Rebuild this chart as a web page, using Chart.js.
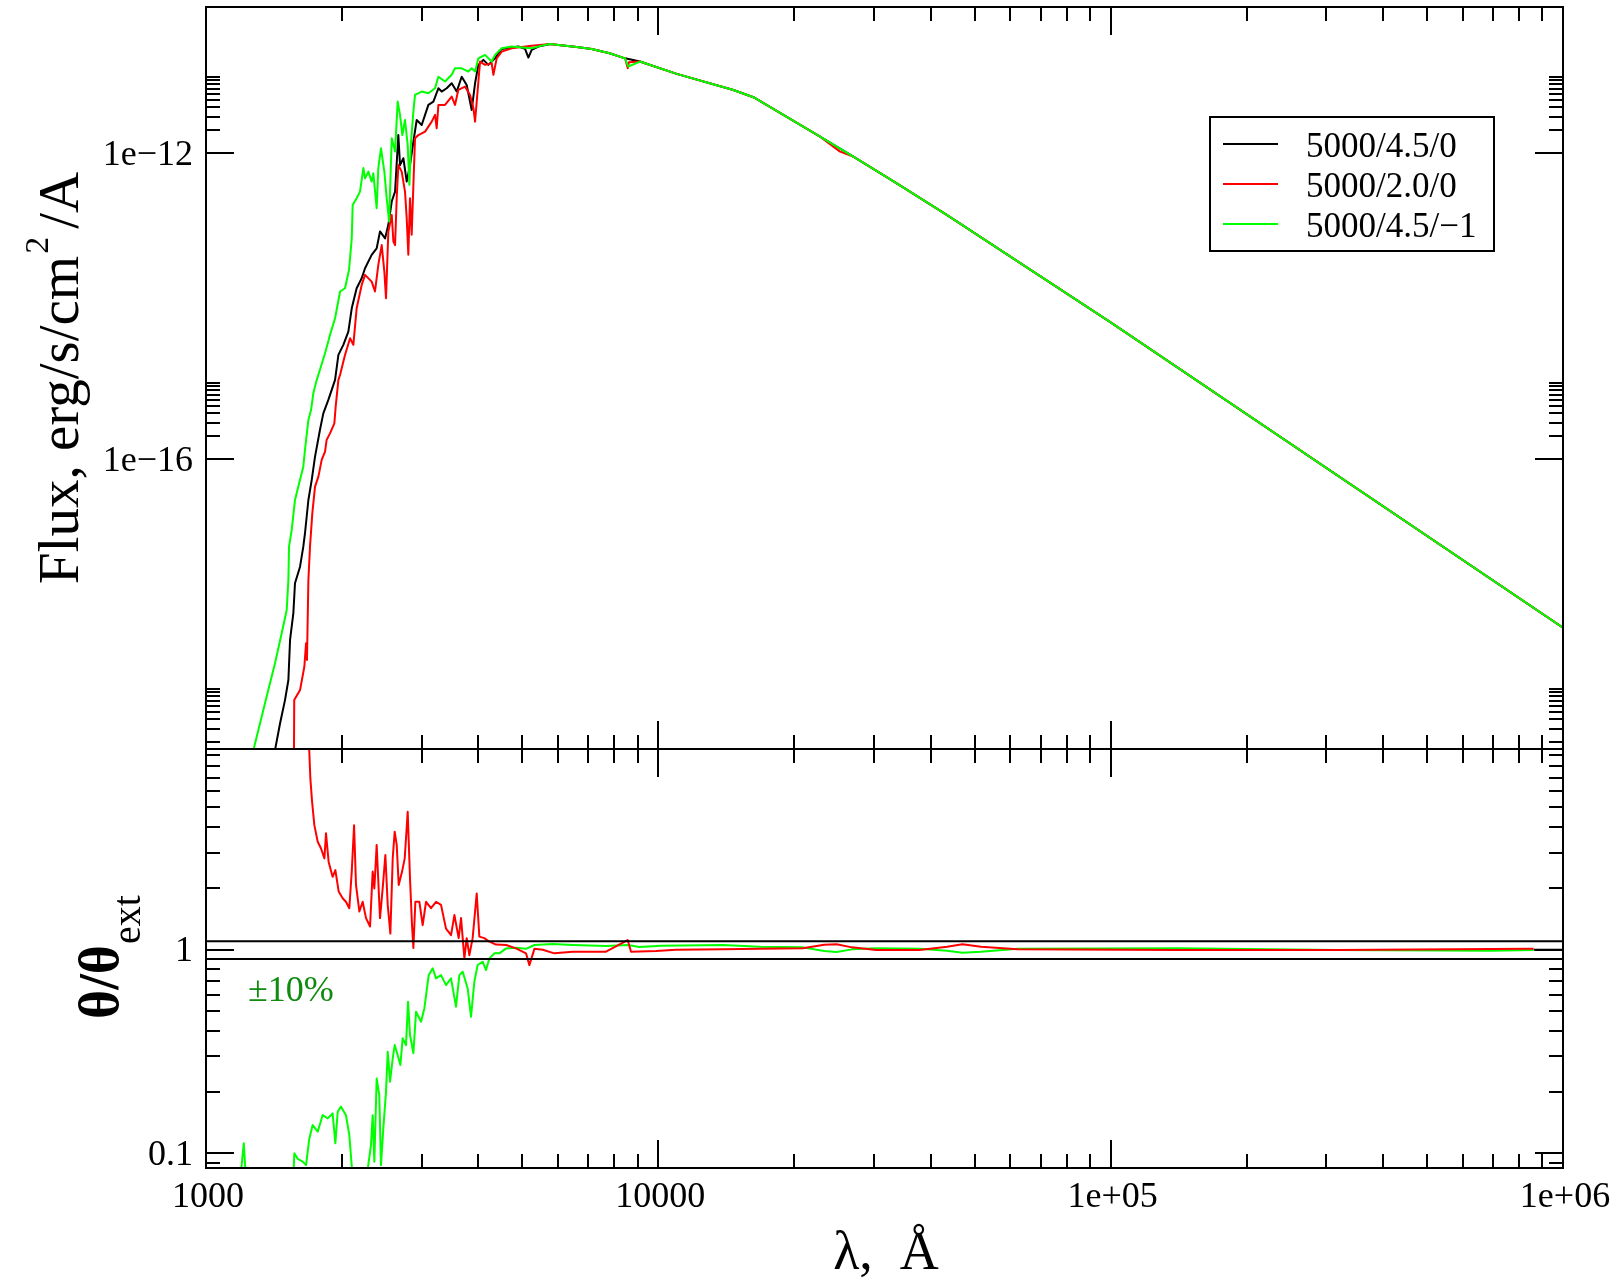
<!DOCTYPE html>
<html>
<head>
<meta charset="utf-8">
<title>Model spectra and angular-diameter ratio</title>
<script src="https://cdn.jsdelivr.net/npm/chart.js@4.4.1/dist/chart.umd.min.js"></script>
<style>
  html, body { margin: 0; padding: 0; background: #ffffff; }
  #figure { position: relative; width: 1621px; height: 1279px; }
  #figure canvas { position: absolute; left: 0; top: 0; }
</style>
</head>
<body>
<div id="figure">
  <canvas id="fluxChart" width="1621" height="1279"></canvas>
  <canvas id="ratioChart" width="1621" height="1279"></canvas>
</div>
<script>
// ---------------------------------------------------------------------------
// Data: wavelength in Angstrom, flux in erg/s/cm^2/A, ratio dimensionless
// ---------------------------------------------------------------------------
const seriesLabels = ['5000/4.5/0', '5000/2.0/0', '5000/4.5/\u22121'];

// UV / blue part of each model spectrum [lambda, flux]
const fluxBlackUV = [
  [1421,1.58e-20],[1458,3.54e-20],[1495,7.1e-20],[1521,1.30e-19],[1534,4.34e-19],[1560,9.7e-19],
  [1573,2.39e-18],[1614,3.94e-18],[1641,7.2e-18],[1655,1.07e-17],[1684,2.93e-17],[1713,5.36e-17],
  [1742,1.08e-16],[1786,2.41e-16],[1817,3.98e-16],[1864,5.96e-16],[1929,1.09e-15],[1962,2.31e-15],
  [2012,3.13e-15],[2064,4.67e-15],[2100,9.4e-15],[2153,1.72e-14],[2209,2.32e-14],[2247,3.14e-14],
  [2324,4.7e-14],[2384,5.7e-14],[2425,9.5e-14],[2488,7.7e-14],[2530,1.16e-13],[2574,2.34e-13],
  [2618,3.15e-13],[2662,1.73e-12],[2685,7.0e-13],[2731,8.6e-13],[2778,4.26e-13],[2825,7.0e-13],
  [2874,1.42e-12],[2923,2.72e-12],[2998,2.34e-12],[3102,4.28e-12],[3182,4.73e-12],[3264,7.07e-12],
  [3319,6.40e-12],[3405,7.07e-12],[3493,8.22e-12],[3583,6.40e-12],[3675,1.00e-11],[3770,7.8e-12],
  [3867,3.68e-12],[3934,8.22e-12],[4001,1.43e-11],[4104,1.66e-11],[4210,1.43e-11],[4355,1.74e-11],
  [4505,2.31e-11],[4904,2.48e-11],[5074,2.31e-11],[5161,1.78e-11],[5248,2.25e-11],[5430,2.48e-11]
];

const fluxRedUV = [
  [1565,1.58e-20],[1567,7.1e-20],[1614,9.6e-20],[1650,1.95e-19],[1664,3.93e-19],[1672,2.38e-19],
  [1684,2.64e-18],[1698,7.2e-18],[1718,1.96e-17],[1742,4.39e-17],[1772,5.93e-17],[1802,9.8e-17],
  [1833,1.26e-16],[1848,1.79e-16],[1880,2.18e-16],[1922,2.94e-16],[1935,4.87e-16],[1962,1.09e-15],
  [1979,1.27e-15],[2029,2.31e-15],[2082,3.82e-15],[2117,3.13e-15],[2153,9.4e-15],[2209,1.90e-14],
  [2247,2.57e-14],[2324,2.10e-14],[2364,1.56e-14],[2404,3.47e-14],[2446,6.3e-14],[2479,2.84e-14],
  [2500,1.27e-14],[2530,9.5e-14],[2574,1.56e-13],[2596,7.0e-14],[2618,6.3e-14],[2640,2.58e-13],
  [2662,7.0e-13],[2708,5.75e-13],[2754,3.15e-13],[2778,1.41e-13],[2801,4.7e-14],[2825,2.58e-13],
  [2849,8.6e-14],[2874,3.86e-13],[2898,1.57e-12],[2948,1.73e-12],[3050,1.92e-12],[3155,2.59e-12],
  [3209,3.17e-12],[3236,2.12e-12],[3264,4.28e-12],[3376,4.28e-12],[3493,5.50e-12],[3552,4.28e-12],
  [3613,6.73e-12],[3738,7.43e-12],[3835,5.78e-12],[3901,3.87e-12],[3934,2.59e-12],[4001,8.65e-12],
  [4035,1.58e-11],[4139,1.43e-11],[4282,1.50e-11],[4319,1.06e-11],[4392,1.74e-11],[4505,2.13e-11],
  [4741,2.36e-11],[5248,2.55e-11]
];

const fluxGreenUV = [
  [1273,1.58e-20],[1328,4.33e-20],[1373,9.6e-20],[1421,2.15e-19],[1470,5.3e-19],[1508,1.07e-18],
  [1521,2.64e-18],[1526,7.2e-18],[1547,1.19e-17],[1573,2.93e-17],[1600,4.39e-17],[1641,8.0e-17],
  [1655,1.32e-16],[1684,3.26e-16],[1707,4.40e-16],[1727,7.3e-16],[1757,1.09e-15],[1772,1.27e-15],
  [1833,2.43e-15],[1880,4.22e-15],[1929,6.97e-15],[1979,1.56e-14],[2029,1.72e-14],[2071,2.99e-14],
  [2100,7.7e-14],[2110,2.11e-13],[2153,2.58e-13],[2190,3.15e-13],[2228,6.4e-13],[2247,4.71e-13],
  [2285,5.75e-13],[2324,4.26e-13],[2344,5.48e-13],[2384,1.91e-13],[2404,6.4e-13],[2437,1.16e-12],
  [2479,5.75e-13],[2509,2.58e-13],[2540,1.28e-13],[2574,1.57e-12],[2618,1.05e-12],[2653,4.73e-12],
  [2685,3.17e-12],[2717,1.73e-12],[2754,2.72e-12],[2792,1.28e-12],[2816,3.86e-13],[2840,1.42e-12],
  [2874,3.5e-12],[2898,5.78e-12],[2998,6.40e-12],[3102,6.08e-12],[3209,7.07e-12],[3264,1.00e-11],
  [3376,8.65e-12],[3493,1.06e-11],[3552,1.29e-11],[3675,1.29e-11],[3802,1.17e-11],[3867,1.29e-11],
  [3934,1.17e-11],[4001,1.74e-11],[4139,1.93e-11],[4282,1.58e-11],[4355,1.93e-11],[4505,2.36e-11],
  [4741,2.48e-11],[5074,2.40e-11],[5248,2.36e-11],[5523,2.55e-11]
];

// Red / infrared part shared by all three models [lambda, flux]
const fluxTail = [
  [5763,2.68e-11],[6012,2.6e-11],[6600,2.45e-11],[7124,2.31e-11],[7800,2.03e-11],[8441,1.74e-11],
  [9110,1.58e-11],[9346,1.50e-11],[10980,1.09e-11],[14654,6.7e-12],[16230,5.4e-12],[22780,1.65e-12],
  [26990,9.05e-13],[34220,3.8e-13],[43410,1.56e-13],[100000,6.14e-15],[1000000,6.3e-19]
];

// Individual absorption features on top of the shared part
const fluxRedFeatures = [[8560,1.29e-11],[8610,1.55e-11],[25220,1.05e-12]];
const fluxGreenFeatures = [[8584,1.36e-11]];

// Lower panel: ratio theta/theta_ext [lambda, ratio]; null marks off-scale stretches
const ratioRed = [
  [1685,10.2],[1692,9.39],[1701,6.94],[1716,5.33],[1736,4.09],[1766,3.39],[1796,3.14],[1827,2.81],
  [1842,3.73],[1867,2.70],[1905,2.28],[1932,2.46],[1965,1.93],[2005,1.79],[2039,1.72],[2074,1.60],
  [2100,2.42],[2125,4.09],[2146,2.08],[2183,1.54],[2220,1.72],[2258,1.43],[2305,1.30],[2336,2.42],
  [2356,2.00],[2384,3.27],[2408,2.00],[2425,1.43],[2458,2.00],[2492,2.92],[2522,1.66],[2556,1.20],
  [2587,2.81],[2613,3.80],[2640,3.27],[2667,2.08],[2713,2.42],[2750,2.81],[2792,4.76],[2825,2.24],
  [2854,1.32],[2874,1.02],[2903,1.72],[2963,1.72],[3013,1.32],[3065,1.72],[3144,1.60],[3225,1.72],
  [3308,1.66],[3393,1.27],[3481,1.18],[3541,1.48],[3619,1.14],[3663,1.43],[3726,0.906],[3770,1.14],
  [3821,0.94],[3886,1.14],[3967,1.89],[4021,1.16],[4125,1.14],[4232,1.095],[4377,1.06],[4607,1.055],
  [4846,1.015],[5099,0.96],[5187,0.84],[5321,1.01],[5552,1.0],[5890,0.96],[6467,0.978],[7662,0.978],
  [8555,1.116],[8703,0.978],[9884,0.985],[10940,1.0],[13890,1.004],[16760,1.012],[20860,1.016],
  [23270,1.058],[24770,1.063],[26790,1.027],[30360,0.997],[37790,0.997],[43490,1.035],[47030,1.063],
  [51660,1.035],[62330,1.004],[140500,0.997],[316800,0.997],[692000,1.008],[861000,1.012]
];

const ratioGreen = [
  [1195,0.081],[1212,0.112],[1222,0.083],[1230,null],[1562,0.083],[1568,0.1],[1595,0.094],
  [1636,0.091],[1664,0.0875],[1692,0.118],[1721,0.1377],[1766,0.1277],[1811,0.1542],[1858,0.1485],
  [1905,0.157],[1932,0.112],[1955,0.16],[1988,0.1695],[2039,0.154],[2074,0.123],[2103,0.083],
  [2110,null],[2277,0.083],[2316,0.11],[2336,0.154],[2356,0.091],[2384,0.233],[2416,0.193],
  [2437,0.0875],[2466,0.1326],[2500,0.2006],[2522,0.3155],[2552,0.2248],[2587,0.2926],[2613,0.34],
  [2653,0.304],[2690,0.2716],[2721,0.367],[2768,0.34],[2797,0.555],[2825,0.381],[2874,0.31],
  [2913,0.496],[2988,0.443],[3039,0.515],[3107,0.75],[3171,0.81],[3225,0.723],[3308,0.75],
  [3393,0.67],[3481,0.723],[3570,0.525],[3632,0.75],[3694,0.78],[3789,0.645],[3854,0.469],
  [3920,0.697],[3986,0.841],[4089,0.873],[4160,0.795],[4232,0.907],[4342,0.96],[4454,0.96],
  [4607,1.015],[4846,1.023],[5099,1.01],[5321,1.055],[5842,1.066],[6467,1.055],[7662,1.043],
  [8555,1.055],[9081,1.03],[10160,1.047],[13890,1.054],[16760,1.035],[20860,1.027],[23270,0.985],
  [24770,0.974],[26790,1.004],[30360,1.016],[37790,1.012],[43490,0.989],[47030,0.967],[51660,0.978],
  [62330,1.012],[140500,1.016],[316800,0.997],[692000,0.989],[861000,0.997]
];

const ratioBlack = [[861000,1.0],[1000000,1.0]];

// +-10% tolerance band around unity
const tolerance = 0.10;
const bandUpper = [[1000, 1 + tolerance], [1000000, 1 + tolerance]];
const bandLower = [[1000, 1 - tolerance], [1000000, 1 - tolerance]];

// Axis ranges and ticks
const lambdaRange = [1000, 1000000];
const fluxRange = [1.63e-20, 8.16e-11];
const ratioRange = [0.0847, 9.68];

const xMajorTicks = [1000, 10000, 100000, 1000000];
const xTickLabels = ['1000', '10000', '1e+05', '1e+06'];
const xMinorTicks = [2000,3000,4000,5000,6000,7000,8000,9000,
                     20000,30000,40000,50000,60000,70000,80000,90000,
                     200000,300000,400000,500000,600000,700000,800000,900000];

const fluxMajorTicks = [1e-12, 1e-16];
const fluxTickLabels = ['1e\u221212', '1e\u221216'];
const fluxMinorTicks = [2e-12,3e-12,4e-12,5e-12,6e-12,7e-12,8e-12,9e-12,1e-11,
                        2e-16,3e-16,4e-16,5e-16,6e-16,7e-16,8e-16,9e-16,1e-15,
                        2e-20,3e-20,4e-20,5e-20,6e-20,7e-20,8e-20,9e-20,1e-19];

const ratioMajorTicks = [0.1, 1];
const ratioTickLabels = ['0.1', '1'];
const ratioMinorTicks = [0.09,0.2,0.3,0.4,0.5,0.6,0.7,0.8,0.9,2,3,4,5,6,7,8,9];

// ---------------------------------------------------------------------------
// Helpers
// ---------------------------------------------------------------------------
const SERIF = '"Liberation Serif", "Times New Roman", serif';
const COLORS = { black: '#000000', red: '#ff0000', green: '#00ff00', note: '#0f8c0f' };

function combine(...parts) {
  return [].concat(...parts).sort((a, b) => a[0] - b[0]);
}
function toPoints(pairs) {
  return pairs.map(p => ({ x: p[0], y: p[1] }));
}
function seg(ctx, x1, y1, x2, y2) {
  ctx.beginPath(); ctx.moveTo(x1, y1); ctx.lineTo(x2, y2); ctx.stroke();
}

// Frame plus inward ticks on all four sides
function drawFrame(chart, yMajor, yMinor) {
  const { ctx, chartArea: a, scales: { x, y } } = chart;
  ctx.save();
  ctx.strokeStyle = '#000'; ctx.lineWidth = 2; ctx.lineCap = 'butt';
  const xt = xMajorTicks.map(v => [v, 28]).concat(xMinorTicks.map(v => [v, 14]));
  for (const [v, len] of xt) {
    const px = Math.round(x.getPixelForValue(v));
    if (px <= a.left + 1 || px >= a.right - 1) continue;
    seg(ctx, px, a.top, px, a.top + len);
    seg(ctx, px, a.bottom, px, a.bottom - len);
  }
  const yt = yMajor.map(v => [v, 28]).concat(yMinor.map(v => [v, 14]));
  for (const [v, len] of yt) {
    const py = Math.round(y.getPixelForValue(v));
    if (py <= a.top + 1 || py >= a.bottom - 1) continue;
    seg(ctx, a.left, py, a.left + len, py);
    seg(ctx, a.right, py, a.right - len, py);
  }
  ctx.strokeRect(a.left, a.top, a.right - a.left, a.bottom - a.top);
  ctx.restore();
}

function drawYLabels(chart, values, labels) {
  const { ctx, chartArea: a, scales: { y } } = chart;
  ctx.save();
  ctx.fillStyle = '#000';
  ctx.font = '36px ' + SERIF;
  ctx.textAlign = 'right';
  ctx.textBaseline = 'middle';
  values.forEach((v, i) => {
    ctx.fillText(labels[i], a.left - 13, y.getPixelForValue(v) + 2);
  });
  ctx.restore();
}

// Text made of runs with their own font and baseline shift, centred on (0,0)
function drawRuns(ctx, runs) {
  let total = 0;
  for (const r of runs) { ctx.font = r.font; total += ctx.measureText(r.text).width + (r.gap || 0); }
  let pos = -total / 2;
  for (const r of runs) {
    ctx.font = r.font;
    ctx.fillText(r.text, pos, r.dy || 0);
    pos += ctx.measureText(r.text).width + (r.gap || 0);
  }
}

function drawVerticalTitle(ctx, runs, baselineX, centerY) {
  ctx.save();
  ctx.fillStyle = '#000';
  ctx.textAlign = 'left';
  ctx.textBaseline = 'alphabetic';
  ctx.translate(baselineX, centerY);
  ctx.rotate(-Math.PI / 2);
  drawRuns(ctx, runs);
  ctx.restore();
}

// ---------------------------------------------------------------------------
// Plugins that draw axes, labels and legend
// ---------------------------------------------------------------------------
const fluxDecor = {
  id: 'fluxDecor',
  afterDraw(chart) {
    const ctx = chart.ctx;
    drawFrame(chart, fluxMajorTicks, fluxMinorTicks);
    drawYLabels(chart, fluxMajorTicks, fluxTickLabels);
    drawVerticalTitle(ctx, [
      { text: 'Flux, erg/s/cm', font: '57px ' + SERIF, gap: 2 },
      { text: '2', font: '34px ' + SERIF, dy: -30, gap: 8 },
      { text: '/A', font: '57px ' + SERIF }
    ], 78, 378);

    // legend
    ctx.save();
    ctx.strokeStyle = '#000'; ctx.lineWidth = 2;
    ctx.strokeRect(1210, 117, 284, 134);
    ctx.font = '35px ' + SERIF;
    ctx.textAlign = 'left'; ctx.textBaseline = 'alphabetic';
    chart.data.datasets.forEach((ds, i) => {
      const ly = 144 + 40 * i;
      ctx.strokeStyle = ds.borderColor;
      seg(ctx, 1223, ly, 1278, ly);
      ctx.fillStyle = '#000';
      ctx.fillText(ds.label, 1306, ly + 13);
    });
    ctx.restore();
  }
};

const ratioDecor = {
  id: 'ratioDecor',
  afterDraw(chart) {
    const { ctx, scales: { x } } = chart;
    drawFrame(chart, ratioMajorTicks, ratioMinorTicks);
    drawYLabels(chart, ratioMajorTicks, ratioTickLabels);

    ctx.save();
    ctx.fillStyle = '#000';
    ctx.font = '36px ' + SERIF;
    ctx.textAlign = 'center'; ctx.textBaseline = 'alphabetic';
    xMajorTicks.forEach((v, i) => ctx.fillText(xTickLabels[i], x.getPixelForValue(v) + 2, 1207));
    ctx.font = '54px ' + SERIF;
    ctx.fillText('\u03bb,  \u00c5', 886, 1269);
    ctx.fillStyle = COLORS.note;
    ctx.font = '36px ' + SERIF;
    ctx.textAlign = 'left';
    ctx.fillText('\u00b1' + Math.round(tolerance * 100) + '%', 248, 1001);
    ctx.restore();

    drawVerticalTitle(ctx, [
      { text: '\u03b8/\u03b8', font: 'bold 56px ' + SERIF, gap: 1 },
      { text: 'ext', font: '40px ' + SERIF, dy: 22 }
    ], 118, 957);
  }
};

// ---------------------------------------------------------------------------
// Charts
// ---------------------------------------------------------------------------
const baseOptions = (padding, yRange) => ({
  responsive: false,
  animation: false,
  devicePixelRatio: 1,
  events: [],
  layout: { padding },
  elements: {
    line: { borderWidth: 2, tension: 0, fill: false, borderJoinStyle: 'round', borderCapStyle: 'butt' },
    point: { radius: 0, hoverRadius: 0 }
  },
  scales: {
    x: { type: 'logarithmic', min: lambdaRange[0], max: lambdaRange[1], display: false },
    y: { type: 'logarithmic', min: yRange[0], max: yRange[1], display: false }
  },
  plugins: { legend: { display: false }, tooltip: { enabled: false } }
});

new Chart(document.getElementById('fluxChart'), {
  type: 'line',
  data: {
    datasets: [
      { label: seriesLabels[0], data: toPoints(combine(fluxBlackUV, fluxTail)),
        borderColor: COLORS.black, order: 3 },
      { label: seriesLabels[1], data: toPoints(combine(fluxRedUV, fluxTail, fluxRedFeatures)),
        borderColor: COLORS.red, order: 2 },
      { label: seriesLabels[2], data: toPoints(combine(fluxGreenUV, fluxTail, fluxGreenFeatures)),
        borderColor: COLORS.green, order: 1 }
    ]
  },
  options: baseOptions({ left: 206, top: 7, right: 58, bottom: 530 }, fluxRange),
  plugins: [fluxDecor]
});

new Chart(document.getElementById('ratioChart'), {
  type: 'line',
  data: {
    datasets: [
      { label: seriesLabels[0], data: toPoints(ratioBlack), borderColor: COLORS.black, order: 5 },
      { label: seriesLabels[2], data: toPoints(ratioGreen), borderColor: COLORS.green, order: 4 },
      { label: seriesLabels[1], data: toPoints(ratioRed), borderColor: COLORS.red, order: 3 },
      { label: '+10%', data: toPoints(bandUpper), borderColor: COLORS.black, order: 1 },
      { label: '-10%', data: toPoints(bandLower), borderColor: COLORS.black, order: 1 }
    ]
  },
  options: baseOptions({ left: 206, top: 749, right: 58, bottom: 111 }, ratioRange),
  plugins: [ratioDecor]
});
</script>
</body>
</html>
